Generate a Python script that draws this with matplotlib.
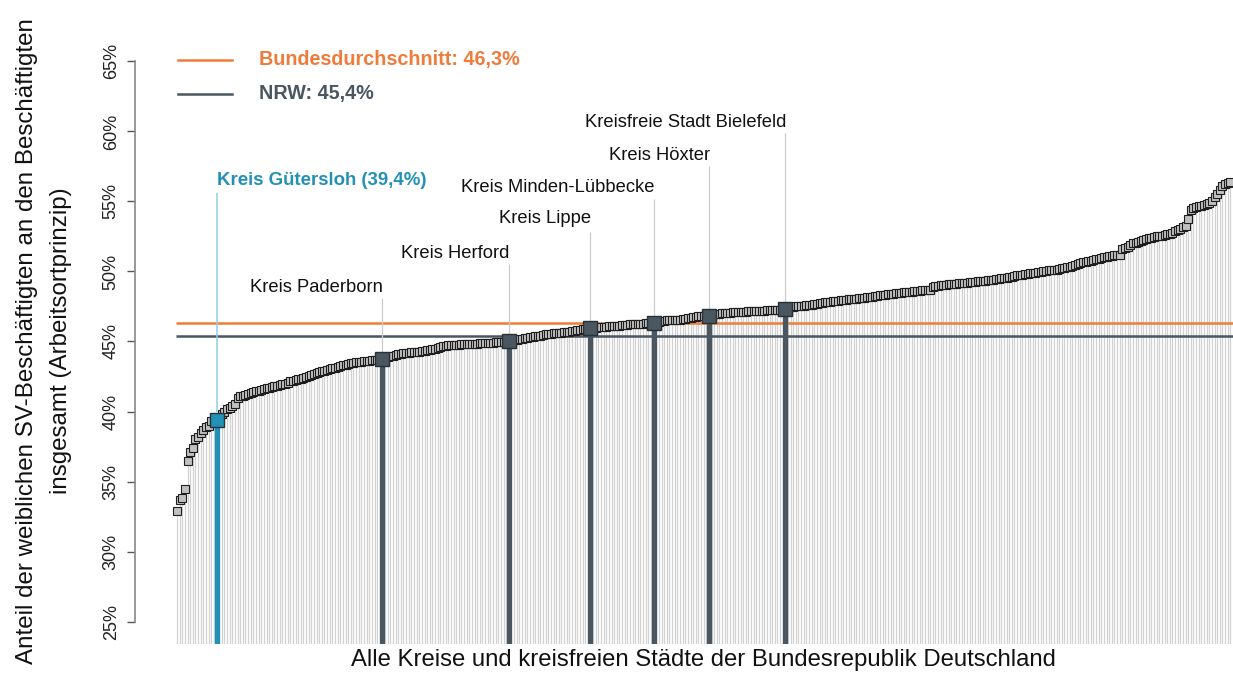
import numpy as np
import matplotlib.pyplot as plt
from matplotlib.lines import Line2D

plt.rcParams['font.family'] = ['Liberation Sans', 'DejaVu Sans']

# Anteil weiblicher SV-Beschaeftigter je Kreis (sortiert)
anteil = [
    32.88, 33.65, 33.80, 34.45, 36.50, 37.10, 37.38, 38.05, 38.19, 38.48,
    38.66, 38.90, 39.00, 39.29, 39.35, 39.40, 39.55, 39.80, 39.95, 40.15,
    40.28, 40.36, 40.57, 41.00, 41.08, 41.14, 41.20, 41.28, 41.33, 41.38,
    41.45, 41.50, 41.57, 41.62, 41.66, 41.70, 41.75, 41.80, 41.85, 41.90,
    41.93, 41.98, 42.05, 42.16, 42.20, 42.25, 42.30, 42.35, 42.42, 42.50,
    42.56, 42.62, 42.68, 42.74, 42.80, 42.86, 42.90, 42.96, 43.02, 43.08,
    43.14, 43.20, 43.25, 43.30, 43.35, 43.40, 43.45, 43.48, 43.51, 43.54,
    43.57, 43.60, 43.62, 43.64, 43.66, 43.68, 43.70, 43.72, 43.75, 43.80,
    43.88, 43.95, 44.00, 44.05, 44.08, 44.12, 44.15, 44.18, 44.20, 44.22,
    44.24, 44.26, 44.28, 44.30, 44.33, 44.36, 44.40, 44.45, 44.50, 44.55,
    44.60, 44.65, 44.70, 44.72, 44.74, 44.76, 44.77, 44.78, 44.79, 44.80,
    44.81, 44.82, 44.83, 44.84, 44.85, 44.86, 44.87, 44.88, 44.89, 44.90,
    44.92, 44.94, 44.95, 44.96, 44.97, 44.98, 45.00, 45.05, 45.10, 45.14,
    45.18, 45.21, 45.24, 45.27, 45.30, 45.33, 45.36, 45.39, 45.42, 45.46,
    45.50, 45.53, 45.56, 45.58, 45.60, 45.62, 45.64, 45.66, 45.68, 45.70,
    45.74, 45.77, 45.80, 45.83, 45.86, 45.88, 45.90, 45.93, 45.96, 45.98,
    46.00, 46.02, 46.04, 46.06, 46.08, 46.10, 46.12, 46.13, 46.14, 46.16,
    46.18, 46.20, 46.22, 46.23, 46.25, 46.26, 46.27, 46.28, 46.30, 46.31,
    46.32, 46.35, 46.38, 46.42, 46.45, 46.48, 46.50, 46.52, 46.53, 46.55,
    46.56, 46.57, 46.60, 46.63, 46.66, 46.70, 46.73, 46.76, 46.79, 46.81,
    46.83, 46.84, 46.85, 46.90, 46.93, 46.96, 46.98, 47.00, 47.02, 47.04,
    47.06, 47.08, 47.10, 47.11, 47.12, 47.13, 47.14, 47.15, 47.16, 47.17,
    47.18, 47.19, 47.20, 47.21, 47.22, 47.23, 47.24, 47.25, 47.26, 47.28,
    47.30, 47.33, 47.38, 47.44, 47.47, 47.50, 47.52, 47.54, 47.56, 47.58,
    47.61, 47.64, 47.67, 47.70, 47.74, 47.78, 47.81, 47.83, 47.85, 47.87,
    47.89, 47.91, 47.93, 47.95, 47.98, 48.00, 48.02, 48.04, 48.07, 48.09,
    48.11, 48.13, 48.15, 48.18, 48.20, 48.23, 48.26, 48.29, 48.32, 48.35,
    48.38, 48.40, 48.42, 48.44, 48.46, 48.48, 48.50, 48.52, 48.55, 48.57,
    48.59, 48.61, 48.63, 48.65, 48.67, 48.68, 48.70, 48.92, 48.96, 48.99,
    49.02, 49.04, 49.06, 49.08, 49.10, 49.12, 49.14, 49.15, 49.17, 49.19,
    49.21, 49.23, 49.25, 49.27, 49.29, 49.31, 49.33, 49.35, 49.37, 49.39,
    49.41, 49.44, 49.47, 49.50, 49.53, 49.56, 49.60, 49.64, 49.68, 49.72,
    49.75, 49.78, 49.80, 49.83, 49.86, 49.89, 49.92, 49.95, 49.98, 50.01,
    50.04, 50.07, 50.09, 50.11, 50.14, 50.18, 50.22, 50.26, 50.30, 50.35,
    50.40, 50.46, 50.52, 50.60, 50.66, 50.70, 50.74, 50.78, 50.82, 50.86,
    50.90, 50.95, 51.00, 51.05, 51.10, 51.14, 51.17, 51.19, 51.21, 51.60,
    51.68, 51.76, 51.88, 52.00, 52.06, 52.12, 52.20, 52.27, 52.34, 52.38,
    52.42, 52.46, 52.50, 52.53, 52.56, 52.60, 52.65, 52.70, 52.78, 52.86,
    52.95, 53.05, 53.15, 53.22, 53.75, 54.40, 54.50, 54.58, 54.64, 54.70,
    54.77, 54.84, 54.90, 55.05, 55.30, 55.55, 55.85, 56.10, 56.25, 56.35,
    56.42,
]

# hervorgehobene Kreise in OWL (Rang in der Sortierung)
kreis_namen = ['Kreis Gütersloh (39,4%)', 'Kreis Paderborn', 'Kreis Herford', 'Kreis Lippe',
               'Kreis Minden-Lübbecke', 'Kreis Höxter', 'Kreisfreie Stadt Bielefeld']
kreis_rang = [15, 78, 126, 157, 181, 202, 231]

bund = 46.3
nrw = 45.4

y_ticks = [25, 30, 35, 40, 45, 50, 55, 60, 65]

# Farben
ORANGE = '#EF7C3A'
DUNKEL = '#4A5660'
TUERKIS = '#2391B6'
GRAU = '#D2D2D2'

# Hoehe der Beschriftung (Text-Mitte und Ende der Hilfslinie)
text_y = [56.5, 48.86, 51.29, 53.79, 56.0, 58.29, 60.64]
linie_oben = [55.6, 48.1, 50.5, 52.85, 55.2, 57.55, 59.9]

W, H = 1233, 673
fig = plt.figure(figsize=(W / 100, H / 100), dpi=100)
ax = fig.add_axes([135 / W, 29 / H, (W - 135) / W, 605 / H])

x = np.arange(len(anteil))
werte = np.array(anteil)

# duenne graue Linien fuer alle Kreise
ax.vlines(x, 0, werte, color=GRAU, lw=0.9, zorder=1)

# Referenzlinien
ax.hlines(bund, -0.5, len(anteil) + 1, color=ORANGE, lw=1.8, zorder=2)
ax.hlines(nrw, -0.5, len(anteil) + 1, color=DUNKEL, lw=1.8, zorder=2)

# alle Kreise als kleine Quadrate
ax.plot(x, werte, 's', ms=5.6, mfc='#C0C0C0', mec='#1E1E1E', mew=0.8, ls='none', zorder=3)

# hervorgehobene Kreise
for i, (name, r) in enumerate(zip(kreis_namen, kreis_rang)):
    v = werte[r]
    farbe = TUERKIS if i == 0 else DUNKEL
    ax.vlines(r, 0, v, color=farbe, lw=3.8, zorder=4)
    ax.plot(r, v, 's', ms=9.5, mfc=farbe, mec='#26313A', mew=1.0, zorder=5)
    if i == 0:
        ax.vlines(r, v + 0.6, linie_oben[i], color='#8FD0E2', lw=1.1, zorder=4)
        ax.text(r, text_y[i], name, ha='left', va='center', fontsize=13.4,
                fontweight='bold', color=TUERKIS)
    else:
        ax.vlines(r, v + 0.4, linie_oben[i], color='#CCCCCC', lw=0.9, zorder=4)
        ax.text(r + 0.3, text_y[i], name, ha='right', va='center', fontsize=13.2,
                color='#111111')

ax.set_xlim(-15.95, 401.0)
ax.set_ylim(23.4, 66.6)

for s in ['top', 'right', 'bottom']:
    ax.spines[s].set_visible(False)
ax.spines['left'].set_bounds(25, 65)
ax.spines['left'].set_color('#888888')
ax.spines['left'].set_linewidth(1.2)
ax.set_xticks([])
ax.set_yticks(y_ticks)
ax.set_yticklabels([f'{t}%' for t in y_ticks], fontsize=13, color='#222222')
ax.tick_params(axis='y', length=6, width=1.0, color='#555555', pad=5)
for lbl in ax.get_yticklabels():
    lbl.set_rotation(90)
    lbl.set_va('center')

# Achsentitel
fig.text(27 / W, 1 - 341 / H, 'Anteil der weiblichen SV-Beschäftigten an den Beschäftigten',
         rotation=90, ha='center', va='center', fontsize=17.4, color='#111111')
fig.text(61 / W, 1 - 341 / H, 'insgesamt (Arbeitsortprinzip)',
         rotation=90, ha='center', va='center', fontsize=17.4, color='#111111')
fig.text(703 / W, 1 - 660 / H, 'Alle Kreise und kreisfreien Städte der Bundesrepublik Deutschland',
         ha='center', va='center', fontsize=17.2, color='#111111')

# Legende
fig.add_artist(Line2D([178 / W, 232 / W], [1 - 60 / H] * 2, color=ORANGE, lw=1.8))
fig.text(259 / W, 1 - 60 / H, f'Bundesdurchschnitt: {bund:.1f}%'.replace('.', ','),
         ha='left', va='center', fontsize=14.2, fontweight='bold', color=ORANGE)
fig.add_artist(Line2D([178 / W, 232 / W], [1 - 94 / H] * 2, color=DUNKEL, lw=1.8))
fig.text(259 / W, 1 - 94 / H, f'NRW: {nrw:.1f}%'.replace('.', ','),
         ha='left', va='center', fontsize=14.2, fontweight='bold', color=DUNKEL)

fig.savefig('out.png', dpi=100)
